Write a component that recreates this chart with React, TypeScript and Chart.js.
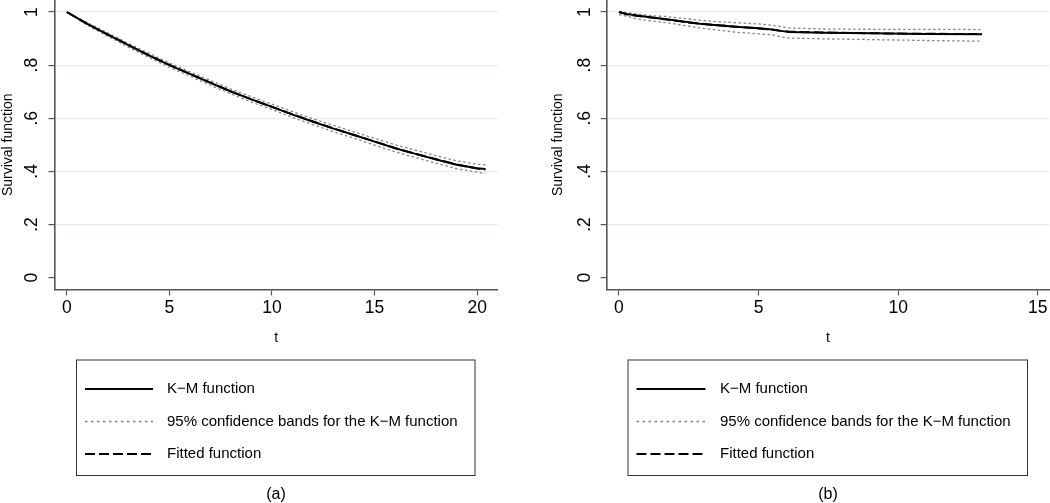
import React, { useEffect, useRef } from "react";
import { Chart, registerables } from "chart.js";

Chart.register(...registerables);

const FONT = "'Liberation Sans', Arial, Helvetica, sans-serif";

// ---- Panel (a) data ----
const tA = [0, 1, 2, 3, 4, 5, 6, 7, 8, 9, 10, 11, 12, 13, 14, 15, 16, 17, 18, 19, 20, 20.4];
const kmA = [1.0, 0.955, 0.915, 0.875, 0.837, 0.8, 0.767, 0.733, 0.701, 0.671, 0.643, 0.614, 0.587, 0.561, 0.537, 0.512, 0.487, 0.466, 0.445, 0.425, 0.412, 0.409];
const upA = [1.0, 0.96, 0.921, 0.882, 0.845, 0.808, 0.775, 0.742, 0.71, 0.681, 0.653, 0.625, 0.598, 0.573, 0.549, 0.525, 0.5, 0.48, 0.459, 0.44, 0.427, 0.425];
const loA = [1.0, 0.95, 0.909, 0.868, 0.829, 0.792, 0.759, 0.724, 0.692, 0.661, 0.633, 0.603, 0.576, 0.549, 0.525, 0.499, 0.474, 0.452, 0.431, 0.41, 0.397, 0.393];
const fitA = [1.0, 0.955, 0.915, 0.876, 0.837, 0.801, 0.767, 0.734, 0.701, 0.671, 0.643, 0.615, 0.588, 0.562, 0.537, 0.513, 0.488, 0.466, 0.446, 0.426, 0.411, 0.407];

// ---- Panel (b) data ----
const tB = [0, 0.3, 0.7, 1.2, 1.7, 2.3, 2.9, 3.6, 4.3, 5.0, 5.5, 5.8, 6.1, 7.3, 9.1, 10.9, 13.0];
const kmB = [1.0, 0.992, 0.986, 0.979, 0.973, 0.964, 0.956, 0.949, 0.944, 0.939, 0.934, 0.929, 0.925, 0.922, 0.92, 0.917, 0.916];
const upB = [1.0, 0.997, 0.992, 0.986, 0.983, 0.976, 0.969, 0.963, 0.959, 0.955, 0.95, 0.945, 0.94, 0.936, 0.935, 0.935, 0.934];
const loB = [0.99, 0.984, 0.973, 0.966, 0.96, 0.95, 0.94, 0.931, 0.923, 0.918, 0.914, 0.906, 0.902, 0.899, 0.896, 0.893, 0.89];
const fitB = [1.0, 0.991, 0.985, 0.978, 0.972, 0.963, 0.956, 0.95, 0.944, 0.938, 0.933, 0.929, 0.926, 0.923, 0.92, 0.918, 0.917];

// ---- Ticks / labels ----
const yTickValues = [0, 0.2, 0.4, 0.6, 0.8, 1];
const yTickLabels = ["0", ".2", ".4", ".6", ".8", "1"];
const xTicksA = [0, 5, 10, 15, 20];
const xTicksB = [0, 5, 10, 15];
const legendLabels = [
  "K\u2212M function",
  "95% confidence bands for the K\u2212M function",
  "Fitted function",
];
const xTitle = "t";
const yTitle = "Survival function";
const captions = ["(a)", "(b)"];

const GRID = "#e3ecee";
const AXIS = "#555555";
const BAND = "#858585";

type Panel = {
  left: number;
  width: number;
  yAxisWidth: number;
  padRight: number;
  xMin: number;
  xMax: number;
  xTicks: number[];
  t: number[];
  km: number[];
  up: number[];
  lo: number[];
  fit: number[];
  caption: string;
  box: [number, number, number, number];
  lineX: [number, number];
  textX: number;
  captionX: number;
};

const panels: Panel[] = [
  {
    left: 0, width: 525, yAxisWidth: 54.5, padRight: 27.3, xMin: -0.6, xMax: 21,
    xTicks: xTicksA, t: tA, km: kmA, up: upA, lo: loA, fit: fitA, caption: captions[0],
    box: [76.5, 360, 475, 475.5], lineX: [85, 153], textX: 167, captionX: 276,
  },
  {
    left: 550, width: 500, yAxisWidth: 56.7, padRight: 1, xMin: -0.44, xMax: 15.4,
    xTicks: xTicksB, t: tB, km: kmB, up: upB, lo: loB, fit: fitB, caption: captions[1],
    box: [628, 360, 1027.5, 475.5], lineX: [636.5, 705.5], textX: 720, captionX: 828,
  },
];

const rowsY = [389, 421.5, 454];

function pts(t: number[], v: number[]) {
  return t.map((x, i) => ({ x, y: v[i] }));
}

function PanelChart({ p }: { p: Panel }) {
  const ref = useRef<HTMLCanvasElement | null>(null);
  useEffect(() => {
    if (!ref.current) return;
    const off = p.left;
    const overlay = {
      id: "overlay",
      afterDraw(chart: any) {
        const ctx = chart.ctx as CanvasRenderingContext2D;
        const ys = chart.scales.y;
        ctx.save();
        // rotated y tick labels
        ctx.fillStyle = "#000";
        ctx.font = `17.5px ${FONT}`;
        ctx.textAlign = "center";
        ctx.textBaseline = "middle";
        yTickValues.forEach((v, i) => {
          const py = ys.getPixelForValue(v);
          ctx.save();
          ctx.translate(ys.right - 22, py);
          ctx.rotate(-Math.PI / 2);
          ctx.fillText(yTickLabels[i], 0, 0);
          ctx.restore();
        });
        // legend box
        const [bl, bt, br, bb] = p.box;
        ctx.strokeStyle = "#333";
        ctx.lineWidth = 1;
        ctx.setLineDash([]);
        ctx.strokeRect(bl - off, bt, br - bl, bb - bt);
        const styles = [
          { color: "#000", width: 2, dash: [] as number[] },
          { color: BAND, width: 1.3, dash: [2.5, 3.5] },
          { color: "#000", width: 2, dash: [10, 4] },
        ];
        ctx.font = `15px ${FONT}`;
        ctx.textAlign = "left";
        legendLabels.forEach((lab, i) => {
          const y = rowsY[i];
          const s = styles[i];
          ctx.beginPath();
          ctx.strokeStyle = s.color;
          ctx.lineWidth = s.width;
          ctx.setLineDash(s.dash);
          ctx.moveTo(p.lineX[0] - off, y);
          ctx.lineTo(p.lineX[1] - off, y);
          ctx.stroke();
          ctx.setLineDash([]);
          ctx.fillStyle = "#000";
          ctx.fillText(lab, p.textX - off, y);
        });
        // caption
        ctx.font = `16px ${FONT}`;
        ctx.textAlign = "center";
        ctx.fillText(p.caption, p.captionX - off, 495);
        ctx.restore();
      },
    };

    const chart = new Chart(ref.current, {
      type: "line",
      data: {
        datasets: [
          {
            label: legendLabels[0],
            data: pts(p.t, p.km),
            borderColor: "#000",
            borderWidth: 2,
            pointRadius: 0,
            tension: 0,
          },
          {
            label: legendLabels[2],
            data: pts(p.t, p.fit),
            borderColor: "#000",
            borderWidth: 2,
            borderDash: [10, 4],
            pointRadius: 0,
            tension: 0,
          },
          {
            label: legendLabels[1],
            data: pts(p.t, p.up),
            borderColor: BAND,
            borderWidth: 1.3,
            borderDash: [2.5, 2.5],
            pointRadius: 0,
            tension: 0,
          },
          {
            label: legendLabels[1] + " (lower)",
            data: pts(p.t, p.lo),
            borderColor: BAND,
            borderWidth: 1.3,
            borderDash: [2.5, 2.5],
            pointRadius: 0,
            tension: 0,
          },
        ],
      },
      options: {
        responsive: false,
        animation: false,
        events: [],
        layout: { padding: { left: 0, right: p.padRight, top: 0, bottom: 152.6 } },
        plugins: { legend: { display: false }, tooltip: { enabled: false } },
        scales: {
          x: {
            type: "linear",
            min: p.xMin,
            max: p.xMax,
            afterBuildTicks: (s: any) => {
              s.ticks = p.xTicks.map((v) => ({ value: v }));
            },
            afterFit: (s: any) => {
              s.height = 61;
            },
            ticks: {
              font: { size: 17.5, family: FONT },
              color: "#000",
              padding: 2,
              maxRotation: 0,
              callback: (v: any) => String(v),
            },
            grid: {
              display: true,
              drawOnChartArea: false,
              drawTicks: true,
              tickLength: 6,
              tickColor: AXIS,
              tickWidth: 1.2,
            },
            border: { display: true, color: AXIS, width: 1.6 },
            title: {
              display: true,
              text: xTitle,
              color: "#000",
              font: { size: 14, family: FONT },
              padding: { top: 4, bottom: 4 },
            },
          },
          y: {
            type: "linear",
            min: -0.044,
            max: 1.0452,
            afterBuildTicks: (s: any) => {
              s.ticks = yTickValues.map((v) => ({ value: v }));
            },
            afterFit: (s: any) => {
              s.width = p.yAxisWidth;
            },
            ticks: { display: false },
            grid: {
              display: true,
              drawOnChartArea: true,
              color: (c: any) => (c.tick && c.tick.value === 0 ? "rgba(0,0,0,0)" : GRID),
              lineWidth: 1.2,
              drawTicks: true,
              tickLength: 6,
              tickColor: AXIS,
              tickWidth: 1.2,
            },
            border: { display: true, color: AXIS, width: 1.6 },
            title: {
              display: true,
              text: yTitle,
              color: "#000",
              font: { size: 14, family: FONT },
              padding: { top: 0, bottom: 0 },
            },
          },
        },
      },
      plugins: [overlay],
    } as any);
    return () => chart.destroy();
  }, [p]);

  return (
    <canvas
      ref={ref}
      width={p.width}
      height={503}
      style={{ position: "absolute", left: p.left, top: 0, width: p.width, height: 503 }}
    />
  );
}

export default function App() {
  return (
    <div style={{ position: "absolute", left: 0, top: 0, width: 1050, height: 503, background: "#fff" }}>
      {panels.map((p, i) => (
        <PanelChart key={i} p={p} />
      ))}
    </div>
  );
}
